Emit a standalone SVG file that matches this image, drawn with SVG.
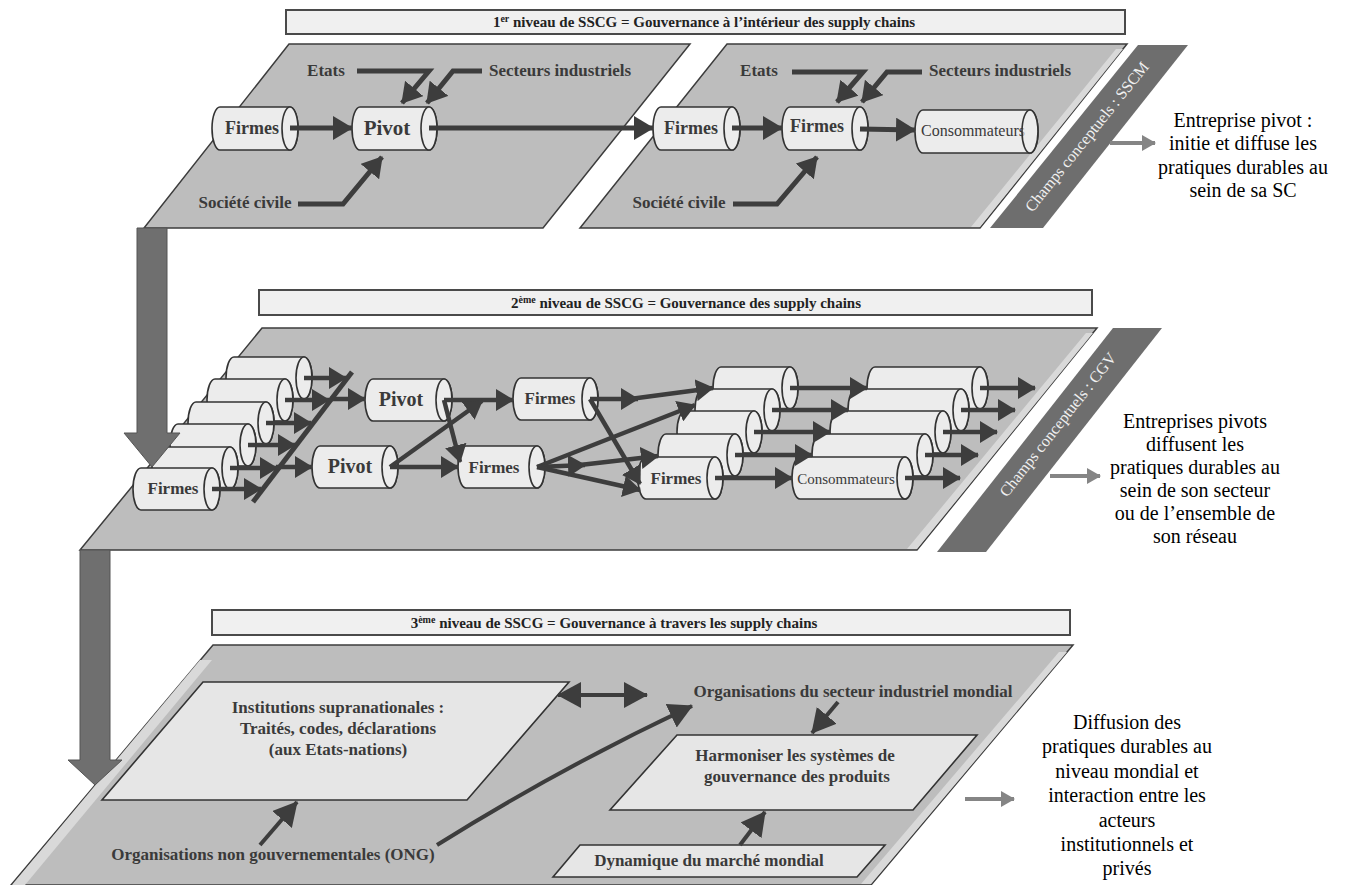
<svg xmlns="http://www.w3.org/2000/svg" width="1357" height="885" viewBox="0 0 1357 885">
<style>
.panel{fill:#bdbdbd;stroke:#3c3c3c;stroke-width:1.5}
.strip{fill:#d9d9d9}
.hdr{fill:#f0f0f0;stroke:#4a4a4a;stroke-width:2}
.hdrt{font-family:"Liberation Serif",serif;font-weight:bold;font-size:15px;fill:#222;text-anchor:middle}
.sup{font-size:10px}
.cyl{fill:#ececec;stroke:#333;stroke-width:1.6}
.lbl{font-family:"Liberation Serif",serif;font-weight:bold;font-size:17px;fill:#3a3a3a;text-anchor:middle}
.f18{font-size:18px}
.f20{font-size:20px}
.f21{font-size:21px}
.cons16{font-size:16px;font-weight:normal}
.cons15{font-size:15px;font-weight:normal}
.band{fill:#6e6e6e}
.bandt{font-family:"Liberation Serif",serif;font-size:16px;fill:#f0f0f0;text-anchor:middle}
.side{font-family:"Liberation Serif",serif;font-size:20px;fill:#000;text-anchor:middle}
.c{fill:none;stroke:#3d3d3d;stroke-width:5;marker-end:url(#ah)}
.cm{fill:none;stroke:#3d3d3d;stroke-width:4.5;marker-end:url(#ahm)}
.cl{fill:none;stroke:#3d3d3d;stroke-width:4;marker-end:url(#ahl)}
.box{fill:#e6e6e6;stroke:#333;stroke-width:1.6}
.big{fill:#6f6f6f;stroke:#555;stroke-width:1}
.g{stroke:#858585;stroke-width:4;marker-end:url(#ahg)}
</style>
<defs>
<marker id="ah" markerUnits="userSpaceOnUse" viewBox="0 0 20 24" markerWidth="20" markerHeight="24" refX="19" refY="12" orient="auto"><path d="M0,0 L20,12 L0,24 Z" fill="#3d3d3d"/></marker>
<marker id="ahm" markerUnits="userSpaceOnUse" viewBox="0 0 18 22" markerWidth="18" markerHeight="22" refX="17" refY="11" orient="auto"><path d="M0,0 L18,11 L0,22 Z" fill="#3d3d3d"/></marker>
<marker id="ahl" markerUnits="userSpaceOnUse" viewBox="0 0 24 26" markerWidth="24" markerHeight="26" refX="23" refY="13" orient="auto-start-reverse"><path d="M0,0 L24,13 L0,26 Z" fill="#3d3d3d"/></marker>
<marker id="ahg" markerUnits="userSpaceOnUse" viewBox="0 0 14 16" markerWidth="14" markerHeight="16" refX="13" refY="8" orient="auto"><path d="M0,0 L14,8 L0,16 Z" fill="#858585"/></marker>
</defs>
<rect width="1357" height="885" fill="#fff"/>

<g id="level1">
<rect class="hdr" x="286" y="10" width="839" height="24"/>
<text class="hdrt" x="704" y="27">1<tspan class="sup" dy="-5">er</tspan><tspan dy="5"> niveau de SSCG =  Gouvernance à l’intérieur des supply chains</tspan></text>
<polygon class="panel" points="289,44 690,44 543,228 144,228"/>
<polygon class="panel" points="727,44 1127,44 980,228 580,228"/>
<polygon class="strip" points="1116,49 1123,49 980,227 971,227"/>
<polygon class="band" points="1138,45 1188,45 1043,228 990,228"/>
<text class="bandt" transform="translate(1091,140) rotate(-51.2)">Champs conceptuels : SSCM</text>
</g>

<g id="level2">
<rect class="hdr" x="259" y="290" width="833" height="25"/>
<text class="hdrt" x="686" y="308">2<tspan class="sup" dy="-5">ème</tspan><tspan dy="5"> niveau de SSCG =  Gouvernance des supply chains</tspan></text>
<polygon class="panel" points="262,328 1097,328 917,550 80,550"/>
<polygon class="strip" points="1086,333 1093,333 917,549 907,549"/>
<polygon class="band" points="1113,328 1162,328 986,552 937,552"/>
<text class="bandt" transform="translate(1062,428) rotate(-51.8)">Champs conceptuels : CGV</text>
</g>

<g id="level3">
<rect class="hdr" x="212" y="610" width="858" height="25"/>
<text class="hdrt" x="614" y="628">3<tspan class="sup" dy="-5">ème</tspan><tspan dy="5"> niveau de SSCG =  Gouvernance à travers les supply chains</tspan></text>
<polygon class="panel" points="213,645 1073,645 871,885 11,885"/>
<polygon class="strip" points="200,660 212,660 25,885 12,885"/>
<polygon class="strip" points="1059,652 1067,652 871,884 861,884"/>
</g>

<g id="top-left-nodes">
<text class="lbl" x="326" y="76">Etats</text>
<text class="lbl" x="560" y="76">Secteurs industriels</text>
<text class="lbl" x="245" y="208">Société civile</text>
<g id="t-firmes1"><path class="cyl" d="M220,107 H290 A8,21.5 0 0 1 290,150 H220 A8,21.5 0 0 1 220,107 Z"/><ellipse class="cyl" cx="290" cy="128.5" rx="8" ry="21.5"/><text class="lbl f18" x="252" y="134">Firmes</text></g>
<g id="t-pivot"><path class="cyl" d="M360,107 H429 A8,21.5 0 0 1 429,150 H360 A8,21.5 0 0 1 360,107 Z"/><ellipse class="cyl" cx="429" cy="128.5" rx="8" ry="21.5"/><text class="lbl f21" x="387" y="135">Pivot</text></g>
</g>

<g id="top-right-nodes">
<text class="lbl" x="759" y="76">Etats</text>
<text class="lbl" x="1000" y="76">Secteurs industriels</text>
<text class="lbl" x="679" y="208">Société civile</text>
<g id="t-firmes2"><path class="cyl" d="M661,107 H732 A8,21.5 0 0 1 732,150 H661 A8,21.5 0 0 1 661,107 Z"/><ellipse class="cyl" cx="732" cy="128.5" rx="8" ry="21.5"/><text class="lbl f18" x="691" y="134">Firmes</text></g>
<g id="t-firmes3"><path class="cyl" d="M790,107 H860 A8,21.5 0 0 1 860,150 H790 A8,21.5 0 0 1 790,107 Z"/><ellipse class="cyl" cx="860" cy="128.5" rx="8" ry="21.5"/><text class="lbl f18" x="817" y="132">Firmes</text></g>
<g id="t-conso"><path class="cyl" d="M923,110 H1030 A8,21.5 0 0 1 1030,153 H923 A8,21.5 0 0 1 923,110 Z"/><text class="lbl cons16" x="973" y="136">Consommateurs</text><ellipse class="cyl" cx="1030" cy="131.5" rx="8" ry="21.5" fill-opacity="0.6"/></g>
</g>

<g id="mid-left-stack">
<path class="cyl" d="M234,357 H304 A8,21 0 0 1 304,399 H234 A8,21 0 0 1 234,357 Z"/><ellipse class="cyl" cx="304" cy="378" rx="8" ry="21"/>
<path class="cyl" d="M215,379 H285 A8,21 0 0 1 285,421 H215 A8,21 0 0 1 215,379 Z"/><ellipse class="cyl" cx="285" cy="400" rx="8" ry="21"/>
<path class="cyl" d="M196,402 H266 A8,21 0 0 1 266,444 H196 A8,21 0 0 1 196,402 Z"/><ellipse class="cyl" cx="266" cy="423" rx="8" ry="21"/>
<path class="cyl" d="M178,424 H248 A8,21 0 0 1 248,466 H178 A8,21 0 0 1 178,424 Z"/><ellipse class="cyl" cx="248" cy="445" rx="8" ry="21"/>
<path class="cyl" d="M160,447 H230 A8,21 0 0 1 230,489 H160 A8,21 0 0 1 160,447 Z"/><ellipse class="cyl" cx="230" cy="468" rx="8" ry="21"/>
<g id="m-firmes0"><path class="cyl" d="M141,468 H212 A8,21 0 0 1 212,510 H141 A8,21 0 0 1 141,468 Z"/><ellipse class="cyl" cx="212" cy="489" rx="8" ry="21"/><text class="lbl" x="173" y="494">Firmes</text></g>
</g>

<g id="mid-center-nodes">
<g id="m-pivot1"><path class="cyl" d="M373,379 H444 A8,21 0 0 1 444,421 H373 A8,21 0 0 1 373,379 Z"/><ellipse class="cyl" cx="444" cy="400" rx="8" ry="21"/><text class="lbl f20" x="401" y="406">Pivot</text></g>
<g id="m-pivot2"><path class="cyl" d="M320,446 H390 A8,21 0 0 1 390,488 H320 A8,21 0 0 1 320,446 Z"/><ellipse class="cyl" cx="390" cy="467" rx="8" ry="21"/><text class="lbl f20" x="350" y="473">Pivot</text></g>
<g id="m-firmes1"><path class="cyl" d="M521,378 H590 A8,21 0 0 1 590,420 H521 A8,21 0 0 1 521,378 Z"/><ellipse class="cyl" cx="590" cy="399" rx="8" ry="21"/><text class="lbl" x="550" y="404">Firmes</text></g>
<g id="m-firmes2"><path class="cyl" d="M466,446 H537 A8,21 0 0 1 537,488 H466 A8,21 0 0 1 466,446 Z"/><ellipse class="cyl" cx="537" cy="467" rx="8" ry="21"/><text class="lbl" x="494" y="473">Firmes</text></g>
</g>

<g id="mid-right-stack">
<path class="cyl" d="M721,367 H790 A8,21 0 0 1 790,409 H721 A8,21 0 0 1 721,367 Z"/><ellipse class="cyl" cx="790" cy="388" rx="8" ry="21"/>
<path class="cyl" d="M875,367 H980 A8,21 0 0 1 980,409 H875 A8,21 0 0 1 875,367 Z"/><ellipse class="cyl" cx="980" cy="388" rx="8" ry="21"/>
<path class="cyl" d="M703,389 H772 A8,21 0 0 1 772,431 H703 A8,21 0 0 1 703,389 Z"/><ellipse class="cyl" cx="772" cy="410" rx="8" ry="21"/>
<path class="cyl" d="M856,389 H961 A8,21 0 0 1 961,431 H856 A8,21 0 0 1 856,389 Z"/><ellipse class="cyl" cx="961" cy="410" rx="8" ry="21"/>
<path class="cyl" d="M685,411 H754 A8,21 0 0 1 754,453 H685 A8,21 0 0 1 685,411 Z"/><ellipse class="cyl" cx="754" cy="432" rx="8" ry="21"/>
<path class="cyl" d="M838,411 H943 A8,21 0 0 1 943,453 H838 A8,21 0 0 1 838,411 Z"/><ellipse class="cyl" cx="943" cy="432" rx="8" ry="21"/>
<path class="cyl" d="M666,434 H735 A8,21 0 0 1 735,476 H666 A8,21 0 0 1 666,434 Z"/><ellipse class="cyl" cx="735" cy="455" rx="8" ry="21"/>
<path class="cyl" d="M820,434 H925 A8,21 0 0 1 925,476 H820 A8,21 0 0 1 820,434 Z"/><ellipse class="cyl" cx="925" cy="455" rx="8" ry="21"/>
<g id="m-firmes3"><path class="cyl" d="M646,457 H715 A8,21 0 0 1 715,499 H646 A8,21 0 0 1 646,457 Z"/><ellipse class="cyl" cx="715" cy="478" rx="8" ry="21"/><text class="lbl" x="676" y="484">Firmes</text></g>
<g id="m-conso"><path class="cyl" d="M800,457 H905 A8,21 0 0 1 905,499 H800 A8,21 0 0 1 800,457 Z"/><text class="lbl cons15" x="846" y="484">Consommateurs</text><ellipse class="cyl" cx="905" cy="478" rx="8" ry="21" fill-opacity="0.6"/></g>
</g>

<g id="bottom-nodes">
<g id="b-institutions"><polygon class="box" points="203,682 569,682 467,800 102,800"/>
<text class="lbl" x="338" y="713">Institutions supranationales :</text>
<text class="lbl" x="338" y="734">Traités, codes, déclarations</text>
<text class="lbl" x="338" y="755">(aux Etats-nations)</text></g>
<text id="b-ong" class="lbl" x="273" y="860">Organisations non gouvernementales (ONG)</text>
<text id="b-orgsect" class="lbl" x="853" y="697">Organisations du secteur industriel mondial</text>
<g id="b-harmon"><polygon class="box" points="677,735 977,735 913,810 610,810"/>
<text class="lbl" x="795" y="761">Harmoniser les systèmes de</text>
<text class="lbl" x="797" y="782">gouvernance des produits</text></g>
<g id="b-dyn"><polygon class="box" points="580,845 885,845 857,877 553,877"/>
<text class="lbl" x="709" y="866">Dynamique du marché mondial</text></g>
</g>

<g id="side-texts">
<text class="side" x="1243" y="127">Entreprise pivot :</text>
<text class="side" x="1243" y="150">initie et diffuse les</text>
<text class="side" x="1243" y="174">pratiques durables au</text>
<text class="side" x="1243" y="197">sein de sa SC</text>
<text class="side" x="1195" y="428">Entreprises pivots</text>
<text class="side" x="1195" y="451">diffusent les</text>
<text class="side" x="1195" y="474">pratiques durables au</text>
<text class="side" x="1195" y="497">sein de son secteur</text>
<text class="side" x="1195" y="520">ou de l’ensemble de</text>
<text class="side" x="1195" y="543">son réseau</text>
<text class="side" x="1127" y="729">Diffusion des</text>
<text class="side" x="1127" y="753">pratiques durables au</text>
<text class="side" x="1127" y="778">niveau mondial et</text>
<text class="side" x="1127" y="802">interaction entre les</text>
<text class="side" x="1127" y="827">acteurs</text>
<text class="side" x="1127" y="851">institutionnels et</text>
<text class="side" x="1127" y="875">privés</text>
</g>

<g id="connectors">
<polygon class="big" points="137,228 167,228 167,433 180,433 152,467 124,433 137,433"/>
<polygon class="big" points="80,550 110,550 110,760 122,760 95,785 68,760 80,760"/>
<path class="c" d="M357,71 L429,71 L402,103"/>
<path class="c" d="M482,71 L453,71 L427,103"/>
<path class="c" d="M298,204 L343,204 L382,157"/>
<path class="c" d="M290,128 L352,128"/>
<path class="c" d="M429,128 L653,128"/>
<path class="c" d="M792,72 L863,72 L837,102"/>
<path class="c" d="M922,72 L887,72 L862,102"/>
<path class="c" d="M733,204 L777,204 L817,157"/>
<path class="c" d="M732,128 L782,128"/>
<path class="c" d="M860,129 L915,130"/>
<path class="cm" d="M304,378 L346,378"/>
<path class="cm" d="M285,400 L329,400"/>
<path class="cm" d="M266,423 L311,423"/>
<path class="cm" d="M248,445 L295,445"/>
<path class="cm" d="M230,468 L277,468"/>
<path class="cm" d="M212,489 L261,489"/>
<path fill="none" stroke="#3d3d3d" stroke-width="5" d="M253,502 L352,372"/>
<path class="cm" d="M330,399 L365,399"/>
<path class="cm" d="M276,467 L312,467"/>
<path class="cm" d="M444,400 L513,400"/>
<path class="cm" d="M444,400 L460,462"/>
<path class="cm" d="M390,467 L458,467"/>
<path class="cm" d="M390,467 L482,401"/>
<path class="cm" d="M590,399 L638,399"/>
<path class="cm" d="M630,399 L713,388"/>
<path class="cm" d="M590,399 L640,484"/>
<path class="cm" d="M537,467 L695,405"/>
<path class="cm" d="M537,467 L585,465"/>
<path class="cm" d="M580,465 L658,456"/>
<path class="cm" d="M537,467 L640,490"/>
<path class="cm" d="M790,388 L867,388"/>
<path class="cm" d="M772,410 L848,410"/>
<path class="cm" d="M754,432 L830,432"/>
<path class="cm" d="M735,455 L812,455"/>
<path class="cm" d="M715,478 L792,478"/>
<path class="cm" d="M980,388 L1035,388"/>
<path class="cm" d="M961,410 L1015,410"/>
<path class="cm" d="M943,432 L997,432"/>
<path class="cm" d="M925,455 L978,455"/>
<path class="cm" d="M905,478 L960,478"/>
<path class="cl" d="M260,845 L297,802"/>
<path class="cl" d="M437,845 Q560,768 692,706"/>
<path class="cl" stroke-width="6" marker-start="url(#ahl)" d="M558,695 L647,695"/>
<path class="cl" d="M838,702 L812,733"/>
<path class="cl" d="M740,845 L765,812"/>
<line class="g" x1="1110" y1="143" x2="1155" y2="143"/>
<line class="g" x1="1050" y1="476" x2="1100" y2="476"/>
<line class="g" x1="965" y1="799" x2="1014" y2="799"/>
</g>
</svg>
